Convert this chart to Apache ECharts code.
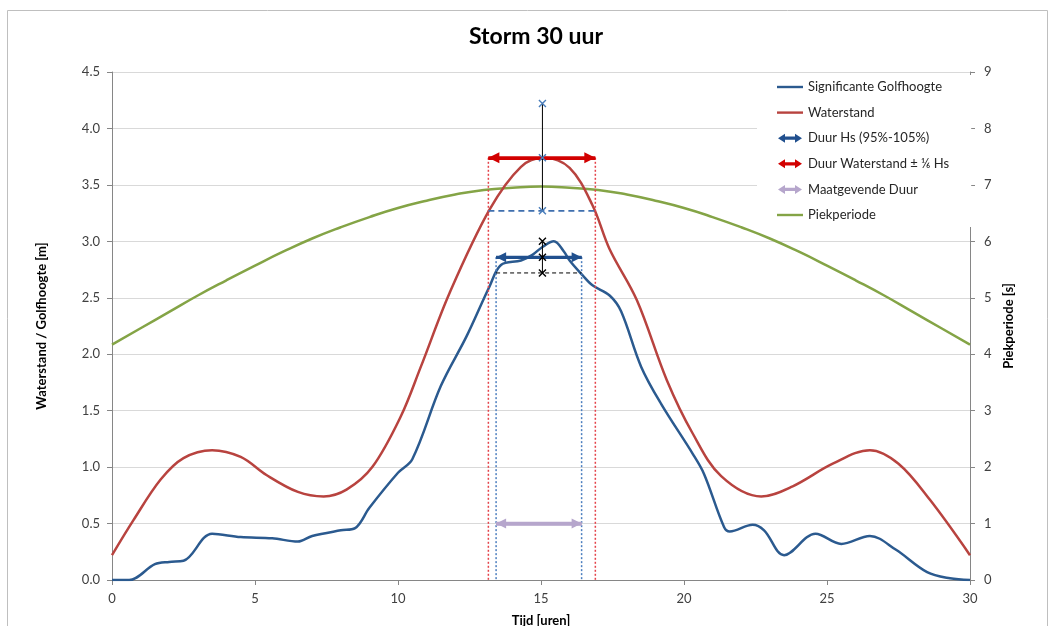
<!DOCTYPE html>
<html lang="nl">
<head>
<meta charset="UTF-8">
<title>Storm 30 uur</title>
<style>
  * { padding: 0; margin: 0; }
  body { background: #fff; }
</style>
</head>
<body>
<div id="chart" style="width: 1058px; height: 626px;"></div>
<script src="https://cdn.jsdelivr.net/npm/echarts@6/dist/echarts.min.js"></script>
<script>
// Significante golfhoogte Hs [m]
const hsTime = [0, 0.6, 1.5, 2.0, 2.5, 3.5, 4.5, 5.6, 6.5, 7.0, 8.0, 8.5, 9.0, 10.0, 10.5, 11.5, 12.4, 13.2, 13.6, 14.3, 14.7, 15.05, 15.45, 15.8, 16.0, 16.45, 16.8, 17.4, 17.8, 18.5, 19.2, 20.3, 20.7, 21.4, 21.6, 22.4, 22.8, 23.5, 24.6, 25.5, 26.5, 27.4, 28.5, 29.3, 30]
const hsValues = [0, 0, 0.14, 0.16, 0.17, 0.41, 0.38, 0.37, 0.34, 0.39, 0.44, 0.46, 0.64, 0.95, 1.07, 1.72, 2.16, 2.6, 2.79, 2.83, 2.88, 2.95, 3.0, 2.91, 2.83, 2.70, 2.61, 2.52, 2.38, 1.89, 1.56, 1.12, 0.94, 0.47, 0.43, 0.49, 0.44, 0.22, 0.41, 0.32, 0.39, 0.27, 0.07, 0.015, 0]

// Waterstand [m]
const wsTime = [0, 0.75, 1.7, 2.5, 3.5, 4.5, 5.4, 6.5, 7.4, 8.2, 9.1, 10.1, 10.8, 11.8, 13.2, 14.3, 15.1, 16.0, 16.8, 17.4, 18.35, 19.4, 20.3, 21.3, 22.7, 23.8, 25.2, 26.5, 27.5, 28.6, 30]
const wsValues = [0.22, 0.53, 0.89, 1.08, 1.15, 1.09, 0.93, 0.78, 0.74, 0.80, 1.00, 1.45, 1.89, 2.54, 3.28, 3.66, 3.74, 3.65, 3.32, 2.93, 2.48, 1.77, 1.30, 0.92, 0.74, 0.83, 1.03, 1.15, 1.03, 0.71, 0.22]

// Piekperiode Tp [s] (rechter as)
const tpTime = [0, 1, 2, 3, 4, 5, 6, 7, 8, 9, 10, 11, 12, 13, 14, 15, 16, 17, 18, 19, 20, 21, 22, 23, 24, 25, 26, 27, 28, 29, 30]
const tpValues = [4.17, 4.46, 4.75, 5.04, 5.31, 5.57, 5.82, 6.05, 6.25, 6.43, 6.59, 6.72, 6.83, 6.91, 6.95, 6.97, 6.95, 6.91, 6.83, 6.72, 6.59, 6.43, 6.25, 6.05, 5.82, 5.57, 5.31, 5.04, 4.75, 4.46, 4.17]

// duur-bepaling
const peakTime = 15.05
const wsPeak = 3.74
const wsBand = [3.27, 4.22]          // waterstand +/- 1/6 Hs
const wsDuur = [13.16, 16.9]         // tijden waterstand > ondergrens
const hsPeak = 2.86
const hsBand = [2.72, 3.0]           // 95% - 105%
const hsDuur = [13.43, 16.42]
const maatgevendLevel = 0.5

const xTicks = { min: 0, max: 30, interval: 5 }
const yLeftTicks = { min: 0, max: 4.5, interval: 0.5 }
const yRightTicks = { min: 0, max: 9, interval: 1 }

const FONT = 'Lato'
const LINE_ICON = 'path://M0,0M26,14M0,5.8h26v2.4h-26z'
const ARROW_ICON = 'path://M0,0M26,14M1,7L8,2.5V5.4H18V2.5L25,7L18,11.5V8.6H8V11.5Z'
// punt van de pijl precies in het midden van het symbool
const ARROW_HEAD = 'path://M0,0M10,20M5,10L10,20L0,20Z'
const X_MARK = 'path://M0,0L10,10M10,0L0,10'

const C_HS = '#2b5a8f'
const C_WS = '#b8433f'
const C_TP = '#84a446'
const C_HS_ARROW = '#21508e'
const C_WS_ARROW = '#d20000'
const C_MAAT = '#b6a6cc'
const C_RED_DOT = '#e4434a'
const C_BLUE_DOT = '#4d7fbf'

const pairs = (xs, ys) => xs.map((x, i) => [x, ys[i]])

let mychart = echarts.init(document.getElementById('chart'))

function arrow(name, color, width, headSize, x0, x1, y) {
    return {
        name: name,
        type: 'line',
        symbol: 'none',
        data: [[x0, y], [x1, y]],
        lineStyle: { color: color, width: width },
        itemStyle: { color: color },
        markLine: {
            silent: true,
            animation: false,
            symbol: [ARROW_HEAD, ARROW_HEAD],
            symbolSize: [headSize, headSize * 2],
            label: { show: false },
            emphasis: { disabled: true },
            lineStyle: { color: color, width: width, type: 'solid' },
            itemStyle: { color: color },
            data: [[{ coord: [x0, y] }, { coord: [x1, y] }]]
        },
        z: 5
    }
}

function segment(points, style, z) {
    return {
        type: 'line',
        symbol: 'none',
        silent: true,
        data: points,
        lineStyle: style,
        z: z || 3
    }
}

function markers(points, markColor) {
    return {
        type: 'line',
        silent: true,
        symbol: X_MARK,
        symbolSize: 7,
        showSymbol: true,
        data: points,
        lineStyle: { color: '#000', width: 1 },
        itemStyle: { color: 'transparent', borderColor: markColor, borderWidth: 1.4 },
        z: 6
    }
}

const axisText = { fontFamily: FONT, fontSize: 13, color: '#404040' }
const nameText = { fontFamily: FONT, fontSize: 13, fontWeight: 'bold', color: '#000' }
const axisLine = { show: true, lineStyle: { color: '#868686', width: 1 } }
const axisTick = { show: true, length: 5, lineStyle: { color: '#868686' } }

let options = {
    animation: false,
    title: {
        text: 'Storm 30 uur',
        left: 536,
        textAlign: 'center',
        top: 25,
        padding: 0,
        textStyle: { fontFamily: FONT, fontSize: 23, fontWeight: 'bold', color: '#000' }
    },
    grid: { left: 112, right: 88, top: 72, bottom: 46, outerBoundsMode: 'none', containLabel: false },
    legend: {
        orient: 'vertical',
        left: 757,
        top: 75,
        padding: [5, 22, 5, 20],
        backgroundColor: '#fff',
        itemWidth: 26,
        itemHeight: 14,
        itemGap: 11.6,
        selectedMode: false,
        textStyle: { fontFamily: FONT, fontSize: 13, color: '#262626' },
        data: [
            { name: 'Significante Golfhoogte', icon: LINE_ICON, itemStyle: { color: C_HS, borderWidth: 0 } },
            { name: 'Waterstand', icon: LINE_ICON, itemStyle: { color: C_WS, borderWidth: 0 } },
            { name: 'Duur Hs (95%-105%)', icon: ARROW_ICON, itemStyle: { color: C_HS_ARROW, borderWidth: 0 } },
            { name: 'Duur Waterstand ± ⅙ Hs', icon: ARROW_ICON, itemStyle: { color: C_WS_ARROW, borderWidth: 0 } },
            { name: 'Maatgevende Duur', icon: ARROW_ICON, itemStyle: { color: C_MAAT, borderWidth: 0 } },
            { name: 'Piekperiode', icon: LINE_ICON, itemStyle: { color: C_TP, borderWidth: 0 } }
        ]
    },
    graphic: [{
        type: 'rect',
        silent: true,
        z: -10,
        shape: { x: 7.5, y: 10.5, width: 1040, height: 640 },
        style: { fill: 'none', stroke: '#bfbfbf', lineWidth: 1 }
    }],
    xAxis: {
        type: 'value',
        min: xTicks.min,
        max: xTicks.max,
        interval: xTicks.interval,
        name: 'Tijd [uren]',
        nameLocation: 'middle',
        nameGap: 34,
        nameTextStyle: nameText,
        axisLine: axisLine,
        axisTick: axisTick,
        axisLabel: Object.assign({ margin: 12 }, axisText),
        splitLine: { show: false }
    },
    yAxis: [{
        type: 'value',
        position: 'left',
        min: yLeftTicks.min,
        max: yLeftTicks.max,
        interval: yLeftTicks.interval,
        name: 'Waterstand / Golfhoogte [m]',
        nameLocation: 'middle',
        nameRotate: 90,
        nameGap: 64,
        nameTextStyle: nameText,
        axisLine: axisLine,
        axisTick: axisTick,
        axisLabel: Object.assign({ margin: 12, formatter: v => v.toFixed(1) }, axisText),
        splitLine: { show: true, lineStyle: { color: '#d9d9d9', width: 1 } }
    }, {
        type: 'value',
        position: 'right',
        min: yRightTicks.min,
        max: yRightTicks.max,
        interval: yRightTicks.interval,
        name: 'Piekperiode [s]',
        nameLocation: 'middle',
        nameRotate: 90,
        nameGap: 30,
        nameTextStyle: nameText,
        axisLine: axisLine,
        axisTick: axisTick,
        axisLabel: Object.assign({ margin: 14 }, axisText),
        splitLine: { show: false }
    }],
    series: [
        // hulplijnen
        segment([[wsDuur[0], wsPeak], [wsDuur[0], 0]], { color: C_RED_DOT, width: 1.5, type: [2, 2] }),
        segment([[wsDuur[1], wsPeak], [wsDuur[1], 0]], { color: C_RED_DOT, width: 1.5, type: [2, 2] }),
        segment([[hsDuur[0], hsPeak], [hsDuur[0], 0]], { color: C_BLUE_DOT, width: 1.5, type: [2, 2] }),
        segment([[hsDuur[1], hsPeak], [hsDuur[1], 0]], { color: C_BLUE_DOT, width: 1.5, type: [2, 2] }),
        segment([[wsDuur[0], wsBand[0]], [wsDuur[1], wsBand[0]]], { color: '#3f6fae', width: 1.6, type: [6, 4] }),
        segment([[hsDuur[0], hsBand[0]], [hsDuur[1], hsBand[0]]], { color: '#000', width: 1, type: [4, 3] }),
        {
            name: 'Piekperiode',
            type: 'line',
            yAxisIndex: 1,
            smooth: true,
            symbol: 'none',
            data: pairs(tpTime, tpValues),
            lineStyle: { color: C_TP, width: 2.5 },
            itemStyle: { color: C_TP },
            z: 2
        },
        {
            name: 'Waterstand',
            type: 'line',
            smooth: 0.35,
            symbol: 'none',
            data: pairs(wsTime, wsValues),
            lineStyle: { color: C_WS, width: 2.5 },
            itemStyle: { color: C_WS },
            z: 2
        },
        {
            name: 'Significante Golfhoogte',
            type: 'line',
            smooth: 0.35,
            symbol: 'none',
            data: pairs(hsTime, hsValues),
            lineStyle: { color: C_HS, width: 2.5 },
            itemStyle: { color: C_HS },
            z: 2
        },
        arrow('Duur Hs (95%-105%)', C_HS_ARROW, 3, 10, hsDuur[0], hsDuur[1], hsPeak),
        arrow('Duur Waterstand ± ⅙ Hs', C_WS_ARROW, 3, 11, wsDuur[0], wsDuur[1], wsPeak),
        arrow('Maatgevende Duur', C_MAAT, 3.5, 10, hsDuur[0], hsDuur[1], maatgevendLevel),
        markers([[peakTime, wsBand[0]], [peakTime, wsPeak], [peakTime, wsBand[1]]], '#4a7ebb'),
        markers([[peakTime, hsBand[0]], [peakTime, hsPeak], [peakTime, hsBand[1]]], '#000')
    ]
}

mychart.setOption(options)
</script>
</body>
</html>
